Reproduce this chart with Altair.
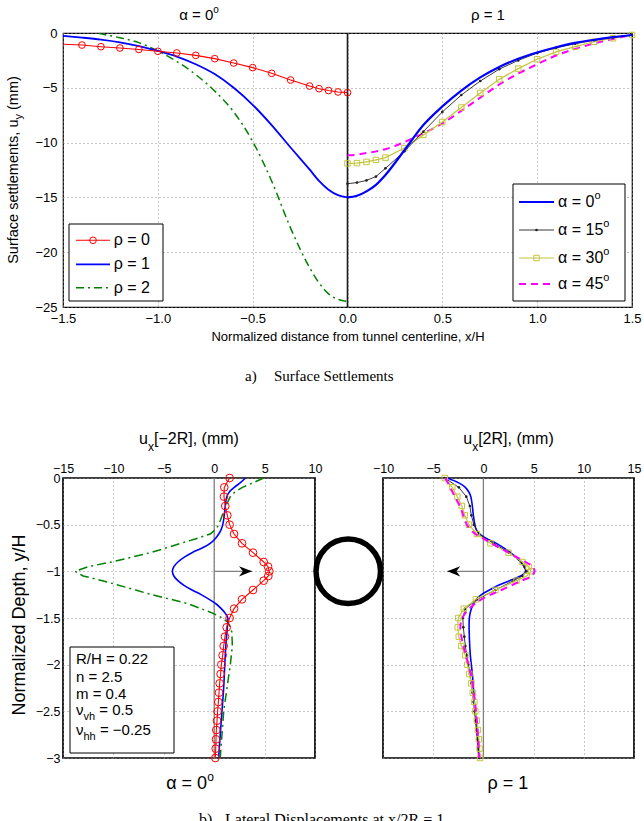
import altair as alt
import pandas as pd

SANS = "Liberation Sans"
SERIF = "Liberation Serif"

# ---------------- (a) surface settlements u_y (mm) vs x/H ----------------
xh_left = [-1.5, -1.4, -1.3, -1.2, -1.1, -1.0, -0.9, -0.8, -0.7, -0.6, -0.5, -0.4, -0.3, -0.2, -0.15, -0.1, -0.05, 0.0]
uy_rho0 = [-1.03, -1.1, -1.25, -1.37, -1.5, -1.67, -1.82, -2.04, -2.34, -2.74, -3.16, -3.68, -4.29, -4.84, -5.08, -5.25, -5.38, -5.44]
uy_rho1 = [-0.27, -0.42, -0.6, -0.85, -1.2, -1.64, -2.15, -2.85, -3.75, -5.0, -6.55, -8.4, -10.45, -12.45, -13.5, -14.3, -14.8, -15.0]
uy_rho2 = [0.55, 0.3, -0.08, -0.43, -0.88, -1.64, -2.6, -3.8, -5.3, -7.2, -9.9, -13.5, -17.8, -21.4, -22.8, -23.8, -24.3, -24.5]

xh_right = [0.0, 0.05, 0.1, 0.15, 0.2, 0.3, 0.4, 0.5, 0.6, 0.7, 0.8, 0.9, 1.0, 1.1, 1.2, 1.3, 1.4, 1.5]
uy_a0 = [-15.0, -14.85, -14.45, -13.85, -12.95, -10.7, -8.4, -6.7, -5.25, -4.05, -3.1, -2.35, -1.78, -1.3, -0.9, -0.62, -0.38, -0.18]
uy_a15 = [-13.75, -13.65, -13.45, -13.1, -12.35, -10.8, -9.0, -7.2, -5.66, -4.38, -3.3, -2.5, -1.83, -1.35, -0.98, -0.66, -0.4, -0.18]
uy_a30 = [-11.9, -11.87, -11.76, -11.58, -11.37, -10.5, -9.3, -8.12, -6.8, -5.47, -4.23, -3.25, -2.4, -1.72, -1.25, -0.8, -0.48, -0.18]
uy_a45 = [-11.15, -11.1, -10.95, -10.8, -10.6, -9.95, -9.15, -8.25, -7.1, -5.9, -4.7, -3.7, -2.85, -2.05, -1.45, -0.95, -0.55, -0.18]

# ---------------- (b) lateral displacements u_x (mm) vs y/H ----------------
yh_marked = [0, -0.1, -0.2, -0.3, -0.4, -0.5, -0.6, -0.7, -0.8, -0.9, -0.95, -1.0, -1.05, -1.1,
             -1.2, -1.3, -1.4, -1.5, -1.6, -1.7, -1.8, -1.9, -2.0, -2.1, -2.2, -2.3, -2.4, -2.5,
             -2.6, -2.7, -2.8, -2.9, -3.0]
ux_l_rho0 = [1.53, 1.0, 0.97, 1.1, 1.3, 1.53, 1.97, 2.76, 3.85, 4.91, 5.34, 5.47, 5.37, 4.91,
             3.85, 2.76, 1.97, 1.53, 1.24, 1.07, 0.94, 0.84, 0.71, 0.64, 0.54, 0.48, 0.41, 0.34,
             0.28, 0.21, 0.18, 0.15, 0.11]
yh_l_rho1 = [0, -0.05, -0.1, -0.15, -0.2, -0.3, -0.4, -0.5, -0.55, -0.6, -0.65, -0.7, -0.75, -0.8,
             -0.85, -0.9, -0.95, -1.0, -1.05, -1.1, -1.15, -1.2, -1.25, -1.3, -1.35, -1.4, -1.45,
             -1.5, -1.6, -1.8, -2.0, -2.25, -2.5, -2.75, -3.0]
ux_l_rho1 = [3.1, 2.6, 2.0, 1.5, 1.25, 1.1, 1.0, 0.85, 0.7, 0.45, 0.1, -0.4, -1.2, -2.2,
             -3.0, -3.6, -4.0, -4.15, -4.0, -3.6, -3.0, -2.2, -1.3, -0.5, 0.2, 0.7, 1.1,
             1.35, 1.3, 1.15, 1.05, 0.94, 0.77, 0.6, 0.44]
yh_l_rho2 = [0, -0.05, -0.1, -0.15, -0.2, -0.3, -0.4, -0.5, -0.55, -0.6, -0.65, -0.7, -0.8, -0.9,
             -0.95, -1.0, -1.05, -1.1, -1.2, -1.25, -1.3, -1.35, -1.4, -1.45, -1.5, -1.55, -1.65,
             -1.8, -2.0, -2.25, -2.5, -3.0]
ux_l_rho2 = [4.9, 3.9, 2.8, 2.05, 1.6, 1.15, 0.8, 0.45, 0.15, -0.4, -1.8, -3.3, -6.3, -10.2,
             -12.5, -13.8, -13.0, -11.1, -7.8, -6.2, -4.3, -2.5, -1.3, -0.1, 0.8, 1.4, 1.75,
             1.8, 1.6, 1.27, 0.94, 0.6]

yh_r_a0 = [0, -0.05, -0.1, -0.15, -0.2, -0.3, -0.4, -0.5, -0.55, -0.6, -0.65, -0.7, -0.8, -0.9,
           -0.95, -1.0, -1.05, -1.1, -1.15, -1.2, -1.25, -1.3, -1.4, -1.5, -1.7, -1.9, -2.1,
           -2.4, -2.7, -3.0]
ux_r_a0 = [-3.6, -2.5, -1.8, -1.45, -1.25, -1.1, -1.0, -0.85, -0.72, -0.35, 0.35, 1.3, 2.7, 3.7,
           4.05, 4.2, 3.7, 2.6, 1.5, 0.6, -0.2, -0.7, -1.2, -1.4, -1.4, -1.3, -1.1,
           -0.9, -0.65, -0.45]
ux_r_a15 = [-3.85, -2.45, -1.7, -1.35, -1.2, -0.95, -0.45, 1.0, 2.6, 3.75, 4.1, 4.3, 3.9, 3.0,
            1.2, -0.6, -1.8, -2.05, -2.0, -1.9, -1.8, -1.65, -1.5, -1.35, -1.2, -1.08, -0.98,
            -0.88, -0.78, -0.68, -0.58, -0.48, -0.4]
ux_r_a30 = [-3.85, -3.1, -2.6, -2.15, -1.85, -1.45, -0.65, 0.7, 2.5, 3.9, 4.5, 4.75, 4.3, 3.3,
            1.2, -0.75, -1.95, -2.5, -2.55, -2.45, -2.2, -1.8, -1.6, -1.4, -1.2, -1.05, -0.9,
            -0.8, -0.65, -0.55, -0.45, -0.38, -0.33]
yh_r_a45 = [0, -0.1, -0.2, -0.3, -0.4, -0.5, -0.6, -0.65, -0.7, -0.8, -0.9, -0.95, -1.0, -1.05,
            -1.1, -1.2, -1.3, -1.4, -1.5, -1.6, -1.75, -1.9, -2.1, -2.3, -2.6, -3.0]
ux_r_a45 = [-3.8, -3.3, -2.85, -2.35, -2.0, -1.65, -0.8, 0.0, 0.8, 2.5, 4.2, 4.9, 5.1, 4.8,
            3.8, 1.8, -0.2, -1.4, -2.1, -2.3, -2.1, -1.75, -1.25, -0.95, -0.65, -0.4]

# annotations: tunnel section and displacement arrows (data units of panel b)
tunnel_x = [13.3]
tunnel_y = [-1.0]
arrow_left = [0.0, 3.75]
arrow_right = [0.0, -3.6]

param_lines = [["R/H = 0.22"], ["n = 2.5"], ["m = 0.4"], ["ν", "vh", " = 0.5"], ["ν", "hh", " = −0.25"]]
rho_labels = ["ρ = 0", "ρ = 1", "ρ = 2"]
alpha_labels = ["α = 0", "α = 15", "α = 30", "α = 45"]

# ---------------- helpers ----------------
AW = {' ': 278, '(': 333, ')': 333, ',': 278, '-': 333, '.': 278, '/': 278, '=': 584, '[': 278, ']': 278,
      '−': 584, 'α': 579, 'ρ': 578, 'ν': 500}
for d in "0123456789":
    AW[d] = 556
AW.update({'A': 667, 'D': 722, 'H': 722, 'N': 722, 'R': 722, 'S': 667,
           'a': 556, 'b': 556, 'c': 500, 'd': 556, 'e': 556, 'f': 278, 'h': 556, 'i': 222, 'l': 222,
           'm': 833, 'n': 556, 'o': 556, 'p': 556, 'r': 333, 's': 500, 't': 278, 'u': 556, 'v': 500,
           'x': 500, 'y': 500, 'z': 500})


def tw(s, size):
    return sum(AW.get(c, 556) for c in s) * size / 1000.0


def rich(pieces, x, y, anchor="center", angle=0, font=SANS, color="black"):
    widths = [tw(t, s) for t, s, _ in pieces]
    off = -sum(widths) / 2 if anchor == "center" else 0.0
    out = []
    for (t, s, dy), w in zip(pieces, widths):
        lead = len(t) - len(t.lstrip(" "))
        o = off + tw(" " * lead, s)
        out.append(
            alt.Chart(pd.DataFrame({"label": [t.strip(" ")]}))
            .mark_text(align="left", baseline="middle", dx=round(o, 2), dy=dy, fontSize=s,
                       font=font, angle=angle, color=color)
            .encode(x=alt.value(x), y=alt.value(y), text="label:N")
        )
        off += w
    return out


def plain(t, x, y, size, font=SERIF, baseline="alphabetic", align="left", angle=0):
    return (alt.Chart(pd.DataFrame({"label": [t]}))
            .mark_text(align=align, baseline=baseline, fontSize=size, font=font, angle=angle, color="black")
            .encode(x=alt.value(x), y=alt.value(y), text="label:N"))


def sdf(xs, ys):
    return pd.DataFrame({"x": xs, "y": ys, "i": list(range(len(xs)))})


def line(df, X, Y, color, width, dash=None, interp="linear", order=False, clip=False):
    kw = dict(color=color, strokeWidth=width, interpolate=interp)
    if dash:
        kw["strokeDash"] = dash
    if clip:
        kw["clip"] = True
    enc = dict(x=X, y=Y)
    if order:
        enc["order"] = alt.Order("i:Q")
    return alt.Chart(df).mark_line(**kw).encode(**enc)


def pts(df, X, Y, shape, color, size, filled=False, sw=1.0):
    return (alt.Chart(df).mark_point(shape=shape, filled=filled, color=color, size=size,
                                     strokeWidth=sw, opacity=1)
            .encode(x=X, y=Y))


def legend_sample(x0, x1, y, color, width, dash=None, shape=None, msize=0, filled=False):
    kw = dict(color=color, strokeWidth=width)
    if dash:
        kw["strokeDash"] = dash
    d = pd.DataFrame({"k": [0]})
    out = [alt.Chart(d).mark_rule(**kw).encode(x=alt.value(x0), x2=alt.value(x1), y=alt.value(y))]
    if shape:
        out.append(alt.Chart(d).mark_point(shape=shape, filled=filled, color=color, size=msize,
                                           strokeWidth=1, opacity=1)
                   .encode(x=alt.value((x0 + x1) / 2), y=alt.value(y)))
    return out


def box(x0, x1, y0, y1):
    return (alt.Chart(pd.DataFrame({"k": [0]}))
            .mark_rect(fill="white", stroke="black", strokeWidth=1)
            .encode(x=alt.value(x0), x2=alt.value(x1), y=alt.value(y0), y2=alt.value(y1)))


RED, BLUE, GREEN, BLACK, YEL, MAG = "#ff0000", "#0000ff", "#008000", "#222222", "#c4c43c", "#ff00ff"
GRID = dict(grid=True, gridDash=[1, 3], gridColor="#8c8c8c", gridWidth=1, ticks=False, domain=False,
            labelFont=SANS, labelColor="black", labelOverlap=False, labelFlush=False, title=None)

# ================= panel (a) =================
Wa, Ha = 569, 274
Xa = alt.X("x:Q", scale=alt.Scale(domain=[-1.5, 1.5], nice=False, zero=False),
           axis=alt.Axis(values=[-1.5, -1.0, -0.5, 0.0, 0.5, 1.0, 1.5], format=".1f",
                         labelFontSize=13, labelPadding=5, **GRID))
Ya = alt.Y("y:Q", scale=alt.Scale(domain=[-25, 0], nice=False, zero=False),
           axis=alt.Axis(values=[0, -5, -10, -15, -20, -25], format="d",
                         labelFontSize=13, labelPadding=6, **GRID))

d_r0 = sdf(xh_left, uy_rho0)
d_r1 = sdf(xh_left, uy_rho1)
d_r2 = sdf(xh_left, uy_rho2)
d_a0 = sdf(xh_right, uy_a0)
d_a15 = sdf(xh_right, uy_a15)
d_a30 = sdf(xh_right, uy_a30)
d_a45 = sdf(xh_right, uy_a45)

top_layers = [
    alt.Chart(pd.DataFrame({"x": [0.0]})).mark_rule(color="#1a1a1a", strokeWidth=1.6).encode(x=Xa),
    line(d_r2, Xa, Ya, GREEN, 1.5, dash=[8, 4, 2, 4], interp="monotone", clip=True),
    line(d_r1, Xa, Ya, BLUE, 1.8, interp="monotone"),
    line(d_r0, Xa, Ya, RED, 1.1),
    pts(d_r0[d_r0.x > -1.45], Xa, Ya, "circle", RED, 45),
    line(d_a45, Xa, Ya, MAG, 2.0, dash=[7, 5], interp="monotone"),
    line(d_a30, Xa, Ya, YEL, 1.2),
    pts(d_a30, Xa, Ya, "square", YEL, 30),
    line(d_a15, Xa, Ya, BLACK, 0.9),
    pts(d_a15, Xa, Ya, "circle", BLACK, 7, filled=True),
    line(d_a0, Xa, Ya, BLUE, 2.2, interp="monotone"),
]
# panel titles
top_layers += rich([("α = 0", 15, 0), ("o", 10, -5)], 136, -18)
top_layers += rich([("ρ = 1", 15, 0)], 425, -18)
# axis titles
top_layers += rich([("Normalized distance from tunnel centerline, x/H", 13, 0)], 285, 304)
top_layers += rich([("Surface settlements, u", 14.5, 0), ("y", 11, 5), (" (mm)", 14.5, 0)], -49, 137, angle=270)
# legend rho
top_layers.append(box(6, 100, 191, 268))
rho_y = [207.3, 231.3, 254.7]
top_layers += legend_sample(13, 47, rho_y[0], RED, 1.1, shape="circle", msize=45)
top_layers += legend_sample(13, 47, rho_y[1], BLUE, 1.8)
top_layers += legend_sample(13, 47, rho_y[2], GREEN, 1.5, dash=[8, 4, 2, 4])
for lab, yy in zip(rho_labels, rho_y):
    top_layers += rich([(lab, 16, 0)], 50.7, yy, anchor="left")
# legend alpha
top_layers.append(box(450, 562, 151, 268))
al_y = [169, 197, 225, 251]
top_layers += legend_sample(456, 491, al_y[0], BLUE, 2.2)
top_layers += legend_sample(456, 491, al_y[1], BLACK, 0.9, shape="circle", msize=7, filled=True)
top_layers += legend_sample(456, 491, al_y[2], YEL, 1.2, shape="square", msize=30)
top_layers += legend_sample(456, 491, al_y[3], MAG, 2.0, dash=[7, 5])
for lab, yy in zip(alpha_labels, al_y):
    top_layers += rich([(lab, 16, 0), ("o", 11, -6)], 495, yy, anchor="left")
# caption (a)
top_layers.append(plain("a)", 182, 348, 15))
top_layers.append(plain("Surface Settlements", 211, 348, 15))

top = alt.layer(*top_layers).properties(
    width=Wa, height=Ha, view=alt.ViewBackground(stroke="black", strokeWidth=1.2, fill="white"))

# ================= panel (b) =================
Wb, Hb = 252, 280
Yb = alt.Y("y:Q", scale=alt.Scale(domain=[-3, 0], nice=False, zero=False),
           axis=alt.Axis(values=[0, -0.5, -1, -1.5, -2, -2.5, -3], format="~g",
                         labelFontSize=12.5, labelPadding=3, **GRID))
Yb_nolab = alt.Y("y:Q", scale=alt.Scale(domain=[-3, 0], nice=False, zero=False),
                 axis=alt.Axis(values=[0, -0.5, -1, -1.5, -2, -2.5, -3], labels=False, **GRID))
Xl = alt.X("x:Q", scale=alt.Scale(domain=[-15, 10], nice=False, zero=False),
           axis=alt.Axis(orient="top", values=[-15, -10, -5, 0, 5, 10], format="d",
                         labelFontSize=12.5, labelPadding=3, **GRID))
Xr = alt.X("x:Q", scale=alt.Scale(domain=[-10, 15], nice=False, zero=False),
           axis=alt.Axis(orient="top", values=[-10, -5, 0, 5, 10, 15], format="d",
                         labelFontSize=12.5, labelPadding=3, **GRID))

ARROW_R = "M0,0L-1,-0.4L-0.7,0L-1,0.4Z"
ARROW_L = "M0,0L1,-0.4L0.7,0L1,0.4Z"


def arrow(xs, X, Y, shape):
    d = pd.DataFrame({"x": [xs[0]], "x2": [xs[1]], "y": [-1.0]})
    shaft = alt.Chart(d).mark_rule(color="#808080", strokeWidth=1.4).encode(x=X, x2="x2:Q", y=Y)
    head = (alt.Chart(pd.DataFrame({"x": [xs[1]], "y": [-1.0]}))
            .mark_point(shape=shape, filled=True, color="black", size=676, strokeWidth=0, opacity=1)
            .encode(x=X, y=Y))
    return [shaft, head]


dl0 = sdf(ux_l_rho0, yh_marked)
dl1 = sdf(ux_l_rho1, yh_l_rho1)
dl2 = sdf(ux_l_rho2, yh_l_rho2)
left_layers = [
    alt.Chart(pd.DataFrame({"x": [0.0]})).mark_rule(color="#808080", strokeWidth=1.3).encode(x=Xl),
    line(dl2, Xl, Yb, GREEN, 1.5, dash=[9, 4, 2, 4], order=True),
    line(dl1, Xl, Yb, BLUE, 1.6, interp="catmull-rom", order=True),
    line(dl0, Xl, Yb, RED, 1.1, order=True),
    pts(dl0, Xl, Yb, "circle", RED, 60),
]
left_layers += arrow(arrow_left, Xl, Yb, ARROW_R)
left_layers.append(
    alt.Chart(pd.DataFrame({"x": tunnel_x, "y": tunnel_y}))
    .mark_point(shape="circle", filled=False, color="black", size=4160, strokeWidth=5.5, opacity=1)
    .encode(x=Xl, y=Yb))
left_layers += rich([("u", 16, 0), ("x", 12, 8), ("[−2R], (mm)", 16, 0)], 126, -39)
left_layers += rich([("α = 0", 18, 0), ("o", 12, -7)], 127, 306)
left_layers += rich([("Normalized Depth, y/H", 18, 0)], -43.5, 147, angle=270)
left_layers.append(box(7, 111, 169, 275))
param_y = [181.3, 199, 216.3, 232, 252.3]
for parts, yy in zip(param_lines, param_y):
    if len(parts) == 1:
        left_layers += rich([(parts[0], 15, 0)], 13, yy, anchor="left")
    else:
        left_layers += rich([(parts[0], 15, 0), (parts[1], 11, 7), (parts[2], 15, 0)], 13, yy, anchor="left")
left_layers.append(plain("b)", 136, 347, 16))
left_layers.append(plain("Lateral Displacements at x/2R = 1", 162, 347, 16))

left = alt.layer(*left_layers).properties(
    width=Wb, height=Hb, view=alt.ViewBackground(stroke="black", strokeWidth=1.7, fill="white"))

dr0 = sdf(ux_r_a0, yh_r_a0)
dr15 = sdf(ux_r_a15, yh_marked)
dr30 = sdf(ux_r_a30, yh_marked)
dr45 = sdf(ux_r_a45, yh_r_a45)
right_layers = [
    alt.Chart(pd.DataFrame({"x": [0.0]})).mark_rule(color="#808080", strokeWidth=1.3).encode(x=Xr),
    line(dr0, Xr, Yb_nolab, BLUE, 1.6, interp="catmull-rom", order=True),
    line(dr15, Xr, Yb_nolab, BLACK, 0.9, order=True),
    pts(dr15, Xr, Yb_nolab, "circle", BLACK, 7, filled=True),
    line(dr30, Xr, Yb_nolab, YEL, 1.2, order=True),
    pts(dr30, Xr, Yb_nolab, "square", YEL, 30),
    line(dr45, Xr, Yb_nolab, MAG, 2.0, dash=[7, 5], interp="catmull-rom", order=True),
]
right_layers += arrow(arrow_right, Xr, Yb_nolab, ARROW_L)
right_layers += rich([("u", 16, 0), ("x", 12, 8), ("[2R], (mm)", 16, 0)], 125.5, -39)
right_layers += rich([("ρ = 1", 18, 0)], 125, 306)

right = alt.layer(*right_layers).properties(
    width=Wb - 1, height=Hb, view=alt.ViewBackground(stroke="black", strokeWidth=1.7, fill="white"))

chart = alt.vconcat(
    top,
    alt.hconcat(left, right, spacing=68, bounds="flush"),
    spacing=171, bounds="flush",
).properties(
    padding={"left": 5, "top": 4, "right": 0, "bottom": 0},
    background="white",
)

chart.save("out.html", embed_options={"renderer": "svg", "actions": False})
